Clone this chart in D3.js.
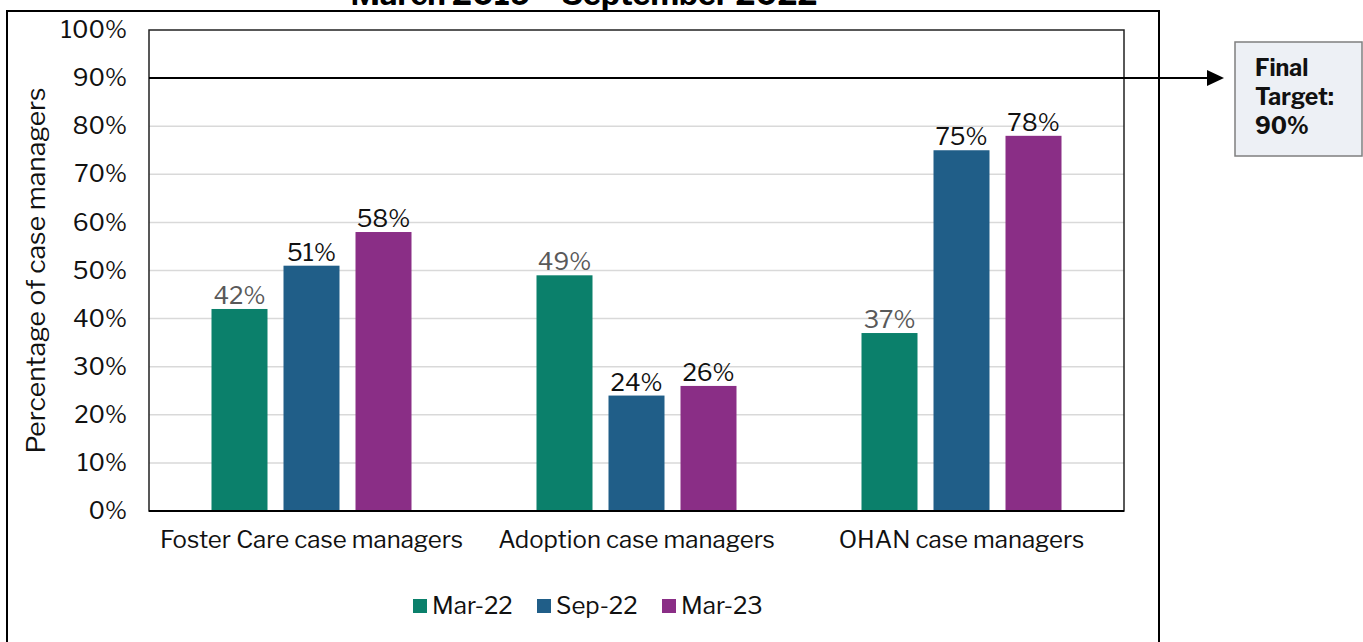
<!DOCTYPE html>
<html><head><meta charset="utf-8">
<script src="https://cdn.jsdelivr.net/npm/d3@7"></script>
<style>body{margin:0;background:#fff;} svg{display:block;}</style>
</head><body>
<svg id="c" width="1363" height="642"></svg>
<script>
const categories = ["Foster Care case managers", "Adoption case managers", "OHAN case managers"];
const seriesNames = ["Mar-22", "Sep-22", "Mar-23"];
const mar22 = [42, 49, 37];
const sep22 = [51, 24, 75];
const mar23 = [58, 26, 78];
const seriesValues = [mar22, sep22, mar23];
const colors = ["#0b806b", "#205e88", "#8a2e86"];
const labelColors = ["#595959", "#111", "#111"];
const yTicks = [0,10,20,30,40,50,60,70,80,90,100];
const target = 90;
const titleText = "March 2019 – September 2022";

const svg = d3.select("#c");
const font = "'Libre Franklin', 'Noto Sans', sans-serif";
const L = 149, R = 1124, T = 30, B = 511;

const y = d3.scaleLinear().domain([0,100]).range([B, T]);
const x0 = d3.scaleBand().domain(categories).range([L, R]).paddingInner(0).paddingOuter(0);
const x1 = d3.scaleBand().domain(seriesNames).range([0, 200]).paddingInner(16/72).paddingOuter(0);
const off = (x0.bandwidth() - 200) / 2;

// outer box
svg.append("rect").attr("x",7).attr("y",11).attr("width",1152).attr("height",700)
  .attr("fill","none").attr("stroke","#000").attr("stroke-width",2);

// title (cut off at top edge, as in the source)
svg.append("text").attr("x",584).attr("y",5).attr("text-anchor","middle")
  .attr("font-family",font).attr("font-weight","bold").attr("font-size",31).text(titleText);

// gridlines
svg.append("g").selectAll("line").data(yTicks.filter(d=>d>0&&d<100&&d!==target)).join("line")
  .attr("x1",L).attr("x2",R).attr("y1",d=>y(d)).attr("y2",d=>y(d))
  .attr("stroke","#d9d9d9").attr("stroke-width",1.5);

// y axis
const yAxis = d3.axisLeft(y).tickValues(yTicks).tickFormat(d=>d+"%").tickSize(0).tickPadding(22);
const ga = svg.append("g").attr("transform",`translate(${L},0)`).call(yAxis);
ga.select(".domain").remove();
ga.selectAll("text").attr("font-family",font).attr("font-size",24).attr("fill","#111");

// bars
const groups = svg.append("g").selectAll("g").data(categories).join("g")
  .attr("transform",c=>`translate(${x0(c)+off},0)`);
groups.selectAll("rect").data((c,i)=>seriesNames.map((s,j)=>({s,j,v:seriesValues[j][i]}))).join("rect")
  .attr("x",d=>x1(d.s)).attr("width",x1.bandwidth())
  .attr("y",d=>y(d.v)).attr("height",d=>B-y(d.v)).attr("fill",d=>colors[d.j]);
groups.selectAll("text").data((c,i)=>seriesNames.map((s,j)=>({s,j,v:seriesValues[j][i]}))).join("text")
  .attr("x",d=>x1(d.s)+x1.bandwidth()/2).attr("y",d=>y(d.v)-5)
  .attr("text-anchor","middle").attr("font-family",font).attr("font-size",24)
  .attr("fill",d=>labelColors[d.j]).text(d=>d.v+"%");

// plot border
svg.append("rect").attr("x",L).attr("y",T).attr("width",R-L).attr("height",B-T)
  .attr("fill","none").attr("stroke","#222").attr("stroke-width",1.5);
svg.append("line").attr("x1",L).attr("x2",R).attr("y1",B).attr("y2",B).attr("stroke","#000").attr("stroke-width",2);

// x axis labels
const xAxis = d3.axisBottom(x0).tickSize(0).tickPadding(20);
const gx = svg.append("g").attr("transform",`translate(0,${B})`).call(xAxis);
gx.select(".domain").remove();
gx.selectAll("text").attr("font-family",font).attr("font-size",24).attr("fill","#111");

// y title
svg.append("text").attr("transform",`translate(45,${(T+B)/2}) rotate(-90)`)
  .attr("text-anchor","middle").attr("font-family",font).attr("font-size",26.5).attr("fill","#111")
  .text("Percentage of case managers");

// target line with arrow
svg.append("line").attr("x1",L).attr("x2",1210).attr("y1",y(target)).attr("y2",y(target))
  .attr("stroke","#000").attr("stroke-width",2);
svg.append("path").attr("d",`M1207,${y(target)-8}L1224,${y(target)}L1207,${y(target)+8}Z`).attr("fill","#000");

// target box
svg.append("rect").attr("x",1235).attr("y",42).attr("width",127).attr("height",114)
  .attr("fill","#edf0f5").attr("stroke","#7f7f7f").attr("stroke-width",1.5);
const tb = svg.append("text").attr("font-family",font).attr("font-weight","bold").attr("font-size",23).attr("fill","#111");
["Final","Target:",target+"%"].forEach((t,i)=>tb.append("tspan").attr("x",1255).attr("y",76+i*29).text(t));

// legend
const lx = [413, 537, 662];
const lg = svg.append("g").selectAll("g").data(seriesNames).join("g")
  .attr("transform",(d,i)=>`translate(${lx[i]},606)`);
lg.append("rect").attr("x",0).attr("y",-7).attr("width",14).attr("height",14).attr("fill",(d,i)=>colors[i]);
lg.append("text").attr("x",19).attr("y",8).attr("font-family",font).attr("font-size",24).attr("fill","#111").text(d=>d);
</script>
</body></html>
